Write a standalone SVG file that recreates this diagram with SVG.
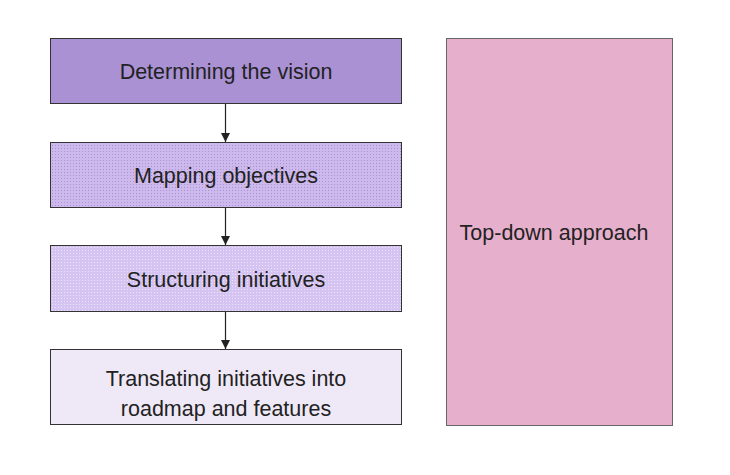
<svg xmlns="http://www.w3.org/2000/svg" width="730" height="475" viewBox="0 0 730 475">
<style>
.box{stroke:#333;stroke-width:1}
.lbl{font-family:"Liberation Sans",Arial,sans-serif;font-size:21.5px;fill:#222;text-anchor:middle}
.conn{stroke:#222;stroke-width:1.2;fill:none}
</style>
<defs>
<pattern id="dots2" width="3" height="3" patternUnits="userSpaceOnUse">
<rect width="3" height="3" fill="#cdb9ec"/>
<rect x="1" y="1" width="1" height="1" fill="#a893d6"/>
</pattern>
<pattern id="dots3" width="3" height="3" patternUnits="userSpaceOnUse">
<rect width="3" height="3" fill="#d5c4f1"/>
<rect x="1" y="1" width="1" height="1" fill="#ece4fa"/>
</pattern>
<marker id="arr" viewBox="0 0 10 10" refX="10" refY="5" markerWidth="9" markerHeight="9" markerUnits="userSpaceOnUse" orient="auto">
<path d="M0,0 L10,5 L0,10 Z" fill="#222"/>
</marker>
</defs>
<rect width="730" height="475" fill="#ffffff"/>
<g id="connectors">
<line class="conn" x1="225.5" y1="103" x2="225.5" y2="142" marker-end="url(#arr)"/>
<line class="conn" x1="225.5" y1="207" x2="225.5" y2="245" marker-end="url(#arr)"/>
<line class="conn" x1="225.5" y1="311" x2="225.5" y2="349" marker-end="url(#arr)"/>
</g>
<g id="node-vision">
<rect class="box" x="50.5" y="38.5" width="351" height="65" fill="#a991d4"/>
<text class="lbl" x="226" y="79">Determining the vision</text>
</g>
<g id="node-objectives">
<rect class="box" x="50.5" y="142.5" width="351" height="65" fill="url(#dots2)"/>
<text class="lbl" x="226" y="183">Mapping objectives</text>
</g>
<g id="node-initiatives">
<rect class="box" x="50.5" y="245.5" width="351" height="66" fill="url(#dots3)"/>
<text class="lbl" x="226" y="287">Structuring initiatives</text>
</g>
<g id="node-roadmap">
<rect class="box" x="50.5" y="349.5" width="351" height="75" fill="#efe9f7"/>
<text class="lbl" x="226" y="386">Translating initiatives into</text>
<text class="lbl" x="226" y="416">roadmap and features</text>
</g>
<g id="node-topdown">
<rect x="446.5" y="38.5" width="226" height="387" fill="#e6b0cc" stroke="#666" stroke-width="1"/>
<text class="lbl" x="554" y="240">Top-down approach</text>
</g>
</svg>
